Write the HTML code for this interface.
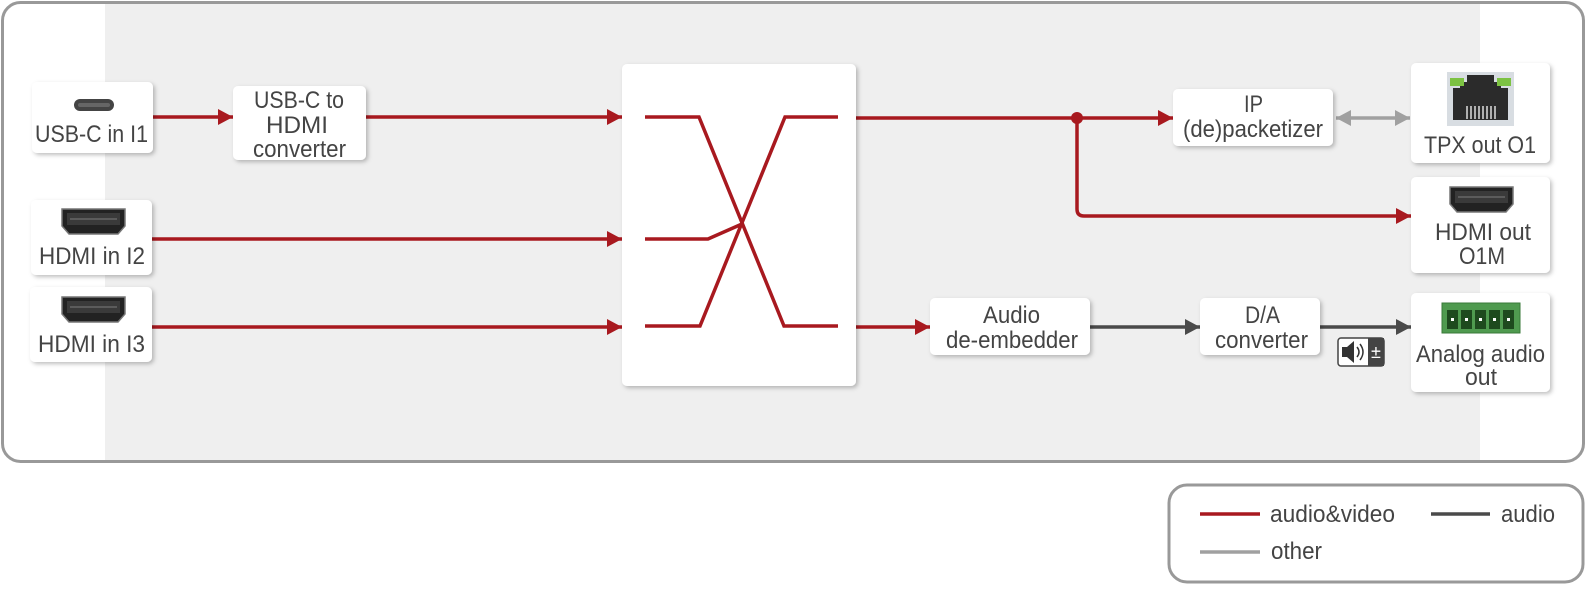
<!DOCTYPE html>
<html><head><meta charset="utf-8"><style>
html,body{margin:0;padding:0;background:#fff;}
svg{display:block;}
text{font-family:"Liberation Sans Narrow","Liberation Sans",sans-serif;font-size:24px;fill:#444;}
</style></head><body>
<svg width="1586" height="592" viewBox="0 0 1586 592" xmlns="http://www.w3.org/2000/svg">
<defs>
<filter id="sh" x="-10%" y="-10%" width="130%" height="130%"><feDropShadow dx="2" dy="2" stdDeviation="2" flood-color="#000" flood-opacity="0.25"/></filter>
<marker id="ar2" markerWidth="16" markerHeight="16" refX="15" refY="8" orient="auto" markerUnits="userSpaceOnUse"><path d="M0,0 L15,8 L0,16z" fill="#a8191f"/></marker>
<marker id="ad" markerWidth="16" markerHeight="16" refX="15" refY="8" orient="auto" markerUnits="userSpaceOnUse"><path d="M0,0 L15,8 L0,16z" fill="#4a4a4a"/></marker>
<marker id="ag" markerWidth="16" markerHeight="16" refX="15" refY="8" orient="auto-start-reverse" markerUnits="userSpaceOnUse"><path d="M0,0 L15,8 L0,16z" fill="#a0a0a0"/></marker>
</defs>
<rect x="2.5" y="2.5" width="1581" height="459" rx="18" fill="#fff" stroke="#999" stroke-width="3"/>
<rect x="105" y="4" width="1375" height="456" fill="#efefef"/>

<g stroke="#a8191f" stroke-width="3.5" fill="none">
<line x1="152" y1="117" x2="233" y2="117" marker-end="url(#ar2)"/>
<line x1="366" y1="117" x2="622" y2="117" marker-end="url(#ar2)"/>
<line x1="152" y1="239" x2="622" y2="239" marker-end="url(#ar2)"/>
<line x1="152" y1="327" x2="622" y2="327" marker-end="url(#ar2)"/>
<line x1="856" y1="118" x2="1173" y2="118" marker-end="url(#ar2)"/>
<path d="M1077,118 V209 Q1077,216 1084,216 H1411" marker-end="url(#ar2)"/>
<line x1="856" y1="327" x2="930" y2="327" marker-end="url(#ar2)"/>
</g>
<circle cx="1077" cy="118" r="6" fill="#a8191f"/>
<g stroke="#4a4a4a" stroke-width="3.5" fill="none">
<line x1="1090" y1="327" x2="1200" y2="327" marker-end="url(#ad)"/>
<line x1="1320" y1="327" x2="1411" y2="327" marker-end="url(#ad)"/>
</g>
<line x1="1336" y1="118" x2="1410" y2="118" stroke="#a0a0a0" stroke-width="3.5" marker-start="url(#ag)" marker-end="url(#ag)"/>

<g fill="#fff" filter="url(#sh)">
<rect x="32" y="82" width="121" height="71" rx="5"/>
<rect x="233" y="86" width="133" height="74" rx="5"/>
<rect x="31" y="200" width="121" height="75" rx="5"/>
<rect x="30" y="287" width="122" height="75" rx="5"/>
<rect x="622" y="64" width="234" height="322" rx="5"/>
<rect x="1173" y="89" width="160" height="57" rx="5"/>
<rect x="1411" y="63" width="139" height="100" rx="5"/>
<rect x="1411" y="177" width="139" height="96" rx="5"/>
<rect x="1411" y="293" width="139" height="99" rx="5"/>
<rect x="930" y="298" width="160" height="57" rx="5"/>
<rect x="1200" y="298" width="120" height="57" rx="5"/>
</g>

<g stroke="#a8191f" stroke-width="3.5" fill="none">
<polyline points="645,117 699,117 784,326 838,326"/>
<polyline points="645,326 700,326 785,117 838,117"/>
<polyline points="645,239 708,239 742,224"/>
</g>

<rect x="74" y="99" width="40" height="12" rx="6" fill="#444"/>
<rect x="78" y="103" width="32" height="4" rx="2" fill="#666"/>
<g id="hdmi">
<path d="M62,209 H125 V226 L118,234 H69 L62,226 Z" fill="#222" stroke="#777" stroke-width="1.5"/>
<rect x="67" y="213" width="53" height="12" fill="#3a3a3a"/>
<line x1="70" y1="219" x2="117" y2="219" stroke="#666" stroke-width="1.5"/>
</g>
<use href="#hdmi" transform="translate(0,88)"/>
<use href="#hdmi" transform="translate(1388,-22)"/>
<rect x="1447" y="72" width="67" height="54" fill="#d8dde2"/>
<path d="M1453,88 H1460 V82 H1467 V75 H1494 V82 H1501 V88 H1508 V120 H1453 Z" fill="#2b2b2b"/>
<rect x="1450" y="78" width="14" height="8" fill="#7cc242"/>
<rect x="1497" y="78" width="14" height="8" fill="#7cc242"/>
<g stroke="#ddd" stroke-width="1.5">
<line x1="1467" y1="106" x2="1467" y2="119"/><line x1="1471" y1="106" x2="1471" y2="119"/><line x1="1475" y1="106" x2="1475" y2="119"/><line x1="1479" y1="106" x2="1479" y2="119"/><line x1="1483" y1="106" x2="1483" y2="119"/><line x1="1487" y1="106" x2="1487" y2="119"/><line x1="1491" y1="106" x2="1491" y2="119"/><line x1="1495" y1="106" x2="1495" y2="119"/>
</g>
<rect x="1442" y="303" width="78" height="30" fill="#4f9a4f" stroke="#3a7a3a"/>
<g fill="#1e4a1e">
<rect x="1447" y="310" width="11" height="19"/><rect x="1461" y="310" width="11" height="19"/><rect x="1475" y="310" width="11" height="19"/><rect x="1489" y="310" width="11" height="19"/><rect x="1503" y="310" width="11" height="19"/>
</g>
<g fill="#fff"><rect x="1451" y="318" width="3" height="3"/><rect x="1465" y="318" width="3" height="3"/><rect x="1479" y="318" width="3" height="3"/><rect x="1493" y="318" width="3" height="3"/><rect x="1507" y="318" width="3" height="3"/></g>
<rect x="1338" y="338" width="46" height="28" rx="3" fill="#fff" stroke="#444" stroke-width="1.5"/>
<rect x="1368" y="338" width="16" height="28" fill="#444"/>
<path d="M1342,347 H1347 L1354,341 V363 L1347,357 H1342 Z" fill="#333"/>
<path d="M1357,347 Q1361,352 1357,357 M1360,344 Q1366,352 1360,360" stroke="#333" stroke-width="1.5" fill="none"/>
<text x="1376" y="358" text-anchor="middle" style="fill:#fff;font-size:18px">±</text>

<text x="35" y="142" textLength="113" lengthAdjust="spacingAndGlyphs">USB-C in I1</text>
<text x="254" y="108" textLength="90" lengthAdjust="spacingAndGlyphs">USB-C to</text>
<text x="266" y="133" textLength="62" lengthAdjust="spacingAndGlyphs">HDMI</text>
<text x="253" y="157" textLength="93" lengthAdjust="spacingAndGlyphs">converter</text>
<text x="39" y="264" textLength="106" lengthAdjust="spacingAndGlyphs">HDMI in I2</text>
<text x="38" y="352" textLength="107" lengthAdjust="spacingAndGlyphs">HDMI in I3</text>
<text x="1244" y="112" textLength="19" lengthAdjust="spacingAndGlyphs">IP</text>
<text x="1183" y="137" textLength="140" lengthAdjust="spacingAndGlyphs">(de)packetizer</text>
<text x="1424" y="153" textLength="112" lengthAdjust="spacingAndGlyphs">TPX out O1</text>
<text x="1435" y="240" textLength="96" lengthAdjust="spacingAndGlyphs">HDMI out</text>
<text x="1459" y="264" textLength="46" lengthAdjust="spacingAndGlyphs">O1M</text>
<text x="983" y="323" textLength="57" lengthAdjust="spacingAndGlyphs">Audio</text>
<text x="946" y="348" textLength="132" lengthAdjust="spacingAndGlyphs">de-embedder</text>
<text x="1245" y="323" textLength="35" lengthAdjust="spacingAndGlyphs">D/A</text>
<text x="1215" y="348" textLength="93" lengthAdjust="spacingAndGlyphs">converter</text>
<text x="1416" y="362" textLength="129" lengthAdjust="spacingAndGlyphs">Analog audio</text>
<text x="1465" y="385" textLength="32" lengthAdjust="spacingAndGlyphs">out</text>

<rect x="1169" y="485" width="414" height="97" rx="18" fill="#fff" stroke="#999" stroke-width="3"/>
<line x1="1200" y1="514" x2="1260" y2="514" stroke="#a8191f" stroke-width="3.5"/>
<line x1="1431" y1="514" x2="1490" y2="514" stroke="#4a4a4a" stroke-width="3.5"/>
<line x1="1200" y1="552" x2="1260" y2="552" stroke="#a0a0a0" stroke-width="3.5"/>
<text x="1270" y="522" textLength="125" lengthAdjust="spacingAndGlyphs">audio&amp;video</text>
<text x="1501" y="522" textLength="54" lengthAdjust="spacingAndGlyphs">audio</text>
<text x="1271" y="559" textLength="51" lengthAdjust="spacingAndGlyphs">other</text>
</svg>
</body></html>
